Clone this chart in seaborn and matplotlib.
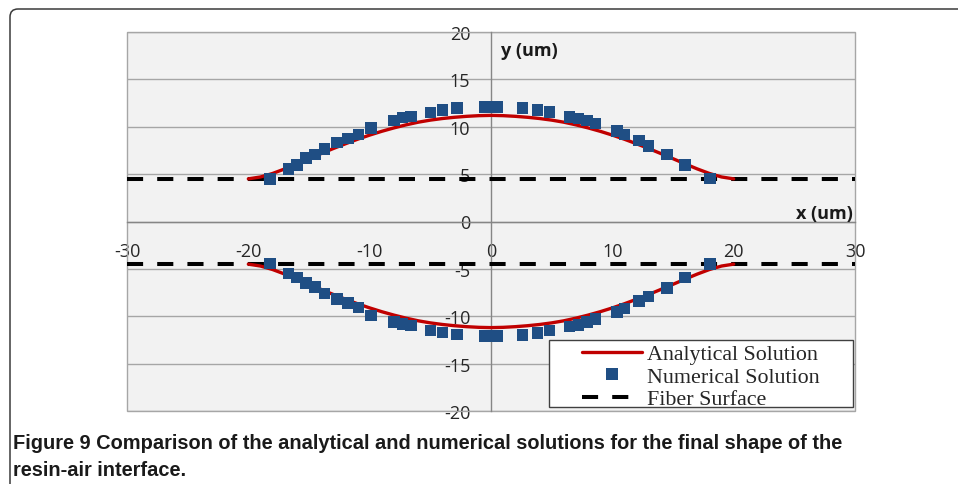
import matplotlib
matplotlib.use("Agg")
import matplotlib.pyplot as plt
from matplotlib import font_manager as fm
from matplotlib.patches import Rectangle, FancyBboxPatch
from matplotlib.lines import Line2D
import numpy as np
import pandas as pd
import seaborn as sns

# ---------------- data ----------------
x_analytical = list(range(-20, 21))
y_analytical_upper = [4.5, 4.7, 5.07, 5.55, 6.08, 6.63, 7.17, 7.7, 8.2, 8.68, 9.12,
                      9.52, 9.88, 10.2, 10.48, 10.7, 10.87, 11.0, 11.1, 11.17, 11.2,
                      11.17, 11.1, 11.0, 10.87, 10.7, 10.48, 10.2, 9.88, 9.52, 9.12,
                      8.68, 8.2, 7.7, 7.17, 6.63, 6.08, 5.55, 5.07, 4.7, 4.5]
y_analytical_lower = [-4.5, -4.7, -5.07, -5.55, -6.08, -6.63, -7.17, -7.7, -8.2, -8.68, -9.12,
                      -9.52, -9.88, -10.2, -10.48, -10.7, -10.87, -11.0, -11.1, -11.17, -11.2,
                      -11.17, -11.1, -11.0, -10.87, -10.7, -10.48, -10.2, -9.88, -9.52, -9.12,
                      -8.68, -8.2, -7.7, -7.17, -6.63, -6.08, -5.55, -5.07, -4.7, -4.5]

x_numerical_upper = [-18.2, -16.7, -16.0, -15.25, -14.5, -13.7, -12.7, -11.8, -10.9, -9.9,
                     -8.0, -7.3, -6.6, -5.0, -4.0, -2.8, -0.5, 0.5, 2.6, 3.85, 4.8, 6.45,
                     7.2, 7.9, 8.6, 10.4, 11.0, 12.2, 13.0, 14.5, 16.0, 18.05]
y_numerical_upper = [4.5, 5.55, 5.95, 6.7, 7.05, 7.65, 8.35, 8.75, 9.2, 9.85,
                     10.65, 10.95, 11.1, 11.5, 11.75, 12.0, 12.1, 12.1, 12.0, 11.75, 11.55, 11.05,
                     10.85, 10.65, 10.35, 9.55, 9.2, 8.55, 7.95, 7.05, 5.95, 4.55]
x_numerical_lower = [-18.2, -16.7, -16.0, -15.25, -14.5, -13.7, -12.7, -11.8, -10.9, -9.9,
                     -8.0, -7.3, -6.6, -5.0, -4.0, -2.8, -0.5, 0.5, 2.6, 3.85, 4.8, 6.45,
                     7.2, 7.9, 8.6, 10.4, 11.0, 12.2, 13.0, 14.5, 16.0, 18.05]
y_numerical_lower = [-4.45, -5.5, -5.9, -6.5, -6.9, -7.6, -8.2, -8.6, -9.05, -9.9,
                     -10.6, -10.8, -11.0, -11.5, -11.7, -11.9, -12.1, -12.1, -12.0, -11.75, -11.5, -11.1,
                     -10.9, -10.6, -10.3, -9.55, -9.2, -8.4, -7.9, -7.0, -5.9, -4.5]

fiber_surface_y = [4.5, -4.5]

x_ticks = [-30, -20, -10, 0, 10, 20, 30]
y_ticks = [-20, -15, -10, -5, 0, 5, 10, 15, 20]
legend_labels = ["Analytical Solution", "Numerical Solution", "Fiber Surface"]
x_label = "x (um)"
y_label = "y (um)"
caption_lines = ["Figure 9 Comparison of the analytical and numerical solutions for the final shape of the",
                 "resin-air interface."]

# ---------------- styling ----------------
RED = "#C00000"
BLUE = "#1F4E84"
GRID = "#A6A6A6"
AXIS = "#868686"
PLOT_BG = "#F2F2F2"

sns.set_theme(style="white")
plt.rcParams["font.family"] = ["Open Sans", "DejaVu Sans"]
plt.rcParams["axes.unicode_minus"] = False

installed = {f.name for f in fm.fontManager.ttflist}
caption_family = "Liberation Sans Narrow" if "Liberation Sans Narrow" in installed else "Liberation Sans"
caption_size = 16.5 if caption_family == "Liberation Sans Narrow" else 14.4

fig = plt.figure(figsize=(9.58, 4.85), dpi=100)
fig.patch.set_facecolor("white")
ax = fig.add_axes([127 / 958, 1 - 412 / 485, 728 / 958, 379 / 485])
ax.set_facecolor(PLOT_BG)

df_an = pd.DataFrame({
    "x": x_analytical + x_analytical,
    "y": y_analytical_upper + y_analytical_lower,
    "half": ["upper"] * len(x_analytical) + ["lower"] * len(x_analytical),
})
df_num = pd.DataFrame({
    "x": x_numerical_upper + x_numerical_lower,
    "y": y_numerical_upper + y_numerical_lower,
})

ax.set_xlim(x_ticks[0], x_ticks[-1])
ax.set_ylim(y_ticks[0], y_ticks[-1])

# grid
ax.set_yticks(y_ticks)
ax.set_xticks(x_ticks)
ax.yaxis.grid(True, color=GRID, lw=1.0, zorder=0)
ax.xaxis.grid(False)
ax.set_axisbelow(True)

# fiber surface
dash_style = (0, (4, 3.5))
for fy in fiber_surface_y:
    ax.axhline(fy, color="black", lw=2.9, linestyle=dash_style, zorder=2)

# analytical
sns.lineplot(data=df_an, x="x", y="y", units="half", estimator=None, sort=True,
             color=RED, lw=2.4, ax=ax, zorder=3, legend=False)
# numerical
sns.scatterplot(data=df_num, x="x", y="y", marker="s", s=68, color=BLUE,
                edgecolor="none", linewidth=0, ax=ax, zorder=4, legend=False)

ax.set_xlabel("")
ax.set_ylabel("")

# axes through zero
for side in ["top", "right"]:
    ax.spines[side].set_visible(False)
ax.spines["left"].set_position(("data", 0))
ax.spines["bottom"].set_position(("data", 0))
for side in ["left", "bottom"]:
    ax.spines[side].set_color(AXIS)
    ax.spines[side].set_linewidth(1.0)
    ax.spines[side].set_zorder(1.5)

ax.tick_params(axis="both", which="major", direction="out", length=4, width=1,
               color=AXIS, labelsize=13, labelcolor="#262626")
ax.tick_params(axis="x", pad=11)
ax.tick_params(axis="y", pad=11)
ax.set_xticklabels([str(v) for v in x_ticks])
ax.set_yticklabels([str(v) for v in y_ticks])

# plot area outline
ax.add_patch(Rectangle((0, 0), 1, 1, transform=ax.transAxes, fill=False,
                       edgecolor=GRID, lw=1.0, clip_on=False, zorder=1))

# axis titles
ax.text(0.8, 18.1, y_label, ha="left", va="center", fontsize=13, fontweight="bold",
        color="#1a1a1a")
ax.text(29.85, 0.9, x_label, ha="right", va="center", fontsize=13, fontweight="bold",
        color="#1a1a1a")

# legend box
ax.add_patch(Rectangle(((549 - 127) / 728, (412 - 408) / 379), (853 - 549) / 728, (408 - 341) / 379,
                       transform=ax.transAxes, facecolor="white", edgecolor="#404040",
                       lw=1.0, zorder=6, clip_on=False))
handles = [
    Line2D([], [], color=RED, lw=2.4),
    Line2D([], [], color=BLUE, marker="s", markersize=8, ls="none", markeredgewidth=0),
    Line2D([], [], color="black", lw=2.9, linestyle=dash_style),
]
leg = fig.legend(handles, legend_labels, loc="upper left",
                 bbox_to_anchor=(582 / 958, 1 - 345 / 485), bbox_transform=fig.transFigure,
                 frameon=False, borderpad=0, borderaxespad=0, handlelength=2.75,
                 handletextpad=0.2, labelspacing=0.1,
                 prop={"family": "Liberation Serif", "size": 15.8})
leg.set_zorder(7)

# outer rounded frame
frame = FancyBboxPatch((0.10, -1.0), 20, 5.75, boxstyle="round,pad=0,rounding_size=0.08",
                       transform=fig.dpi_scale_trans, fill=False, edgecolor="#3a3a3a",
                       lw=1.1, clip_on=False)
fig.add_artist(frame)

# caption
fig.text(13 / 958, 1 - 444 / 485, caption_lines[0], ha="left", va="center",
         fontsize=caption_size, fontweight="bold", family=caption_family, color="#1a1a1a")
fig.text(13 / 958, 1 - 471 / 485, caption_lines[1], ha="left", va="center",
         fontsize=caption_size, fontweight="bold", family=caption_family, color="#1a1a1a")

fig.savefig("out.png", dpi=100, facecolor="white")
